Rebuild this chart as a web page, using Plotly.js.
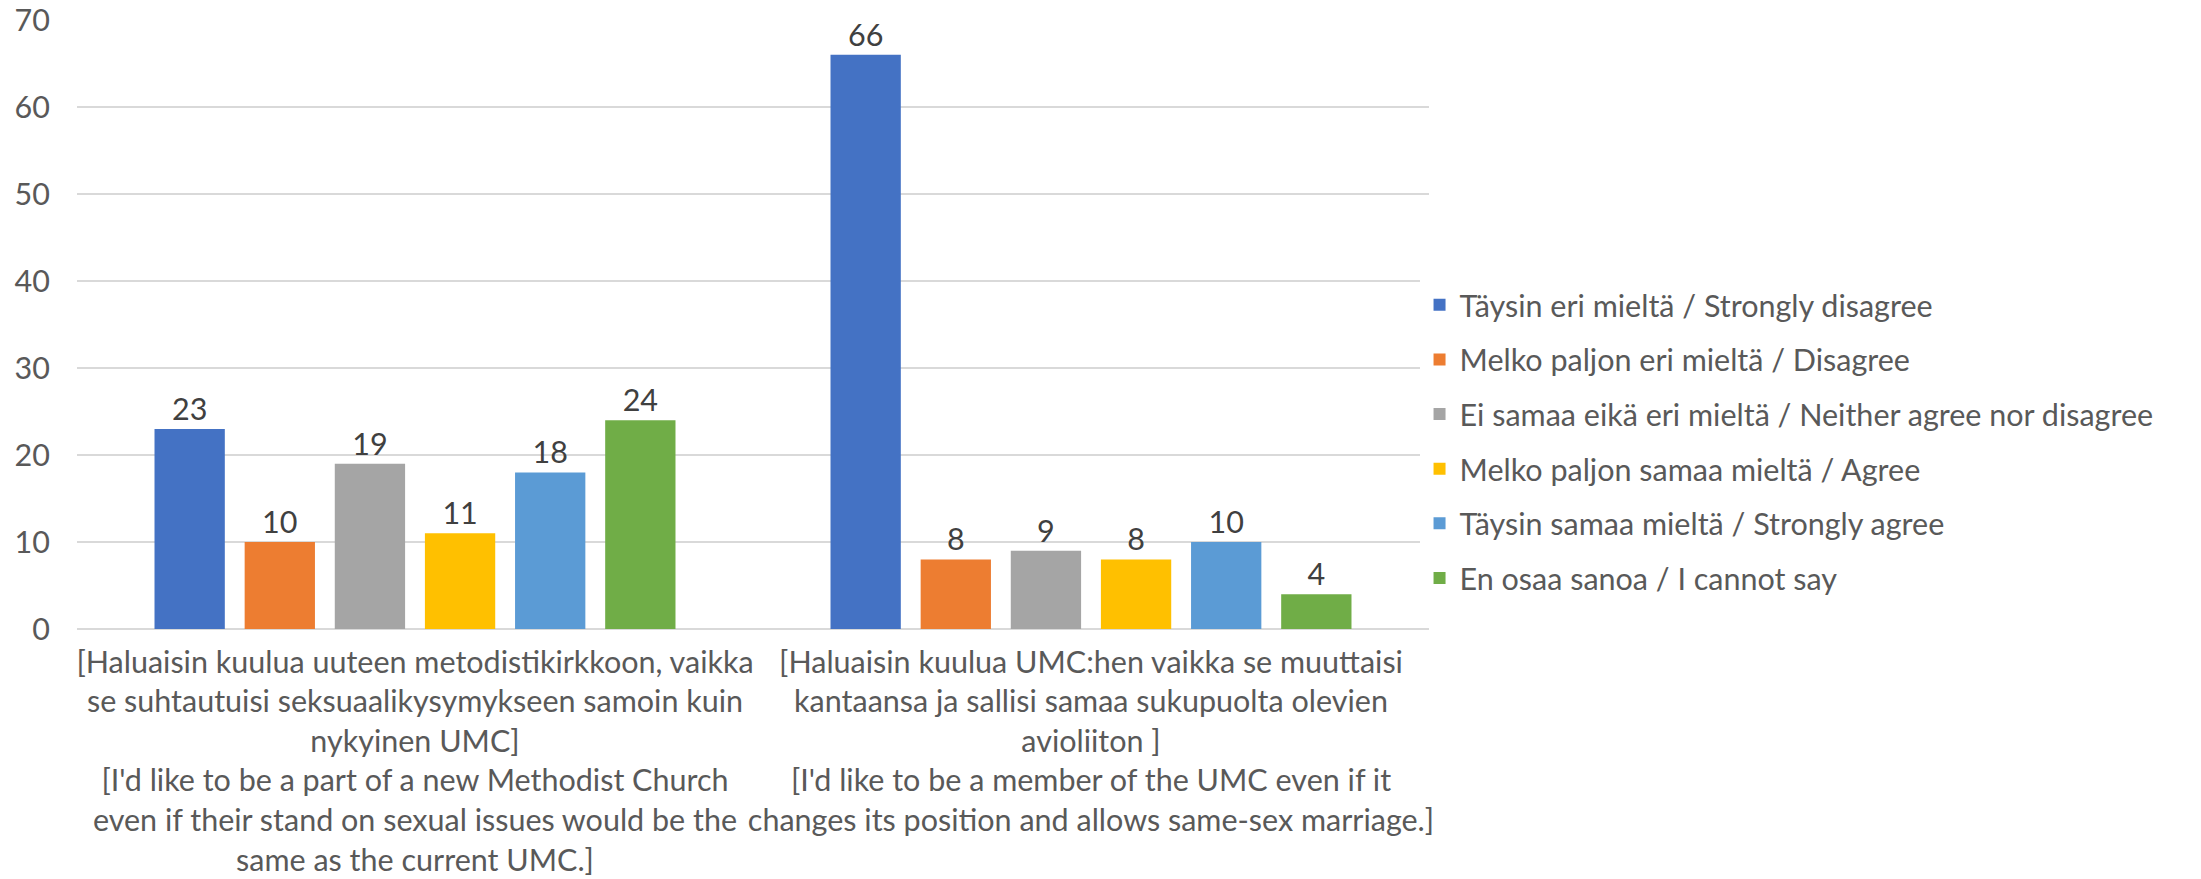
<!DOCTYPE html>
<html lang="en">
<head>
    <meta charset="UTF-8">
    <title>UMC kysely</title>
    <script src="https://cdn.plot.ly/plotly-3.0.1.min.js"></script>
    <style>
        body { margin: 0; background: white; }
        #chart { width: 2201px; height: 879px; }
    </style>
</head>
<body>
    <div id="chart"></div>
    <script>
        // Categories (two statements)
        const categories = [
            '[Haluaisin kuulua uuteen metodistikirkkoon, vaikka<br>se suhtautuisi seksuaalikysymykseen samoin kuin<br>nykyinen UMC]<br>[I\'d like to be a part of a new Methodist Church<br>even if their stand on sexual issues would be the<br>same as the current UMC.]',
            '[Haluaisin kuulua UMC:hen vaikka se muuttaisi<br>kantaansa ja sallisi samaa sukupuolta olevien<br>avioliiton ]<br>[I\'d like to be a member of the UMC even if it<br>changes its position and allows same-sex marriage.]'
        ];

        // Answer options and counts
        const seriesNames = [
            'Täysin eri mieltä / Strongly disagree',
            'Melko paljon eri mieltä / Disagree',
            'Ei samaa eikä eri mieltä / Neither agree nor disagree',
            'Melko paljon samaa mieltä / Agree',
            'Täysin samaa mieltä / Strongly agree',
            'En osaa sanoa / I cannot say'
        ];
        const stronglyDisagree = [23, 66];
        const disagree = [10, 8];
        const neither = [19, 9];
        const agree = [11, 8];
        const stronglyAgree = [18, 10];
        const cannotSay = [24, 4];

        const colors = ['#4472C4', '#ED7D31', '#A5A5A5', '#FFC000', '#5B9BD5', '#70AD47'];
        const FONT = 'Lato, "Open Sans", sans-serif';
        const SIZE = 30.5;

        const values = [stronglyDisagree, disagree, neither, agree, stronglyAgree, cannotSay];

        const data = values.map((v, i) => ({
            type: 'bar',
            x: categories,
            y: v,
            name: seriesNames[i],
            legendgroup: 'g' + i,
            marker: { color: colors[i] },
            text: v.map(String),
            textposition: 'outside',
            cliponaxis: false,
            textfont: { family: FONT, size: SIZE, color: '#404040' },
            hoverinfo: 'y+name'
        }));

        const layout = {
            width: 2201,
            height: 879,
            margin: { l: 77, r: 772, t: 20, b: 250 },
            paper_bgcolor: 'white',
            plot_bgcolor: 'white',
            font: { family: FONT, size: SIZE, color: '#595959' },
            barmode: 'group',
            bargap: 0.2,
            bargroupgap: 0.22,
            xaxis: {
                showgrid: false,
                showline: false,
                ticks: '',
                tickangle: 0,
                ticklabelstandoff: 12,
                tickfont: { family: FONT, size: SIZE, color: '#595959' }
            },
            yaxis: {
                range: [0, 70],
                dtick: 10,
                showgrid: true,
                gridcolor: '#D9D9D9',
                gridwidth: 1.5,
                zeroline: true,
                zerolinecolor: '#D9D9D9',
                zerolinewidth: 1.5,
                showline: false,
                ticks: '',
                ticklabelstandoff: 26,
                ticklabeloverflow: 'allow',
                tickfont: { family: FONT, size: SIZE, color: '#595959' }
            },
            showlegend: true,
            legend: {
                x: 0.993,
                xanchor: 'left',
                y: 0.308,
                yanchor: 'middle',
                tracegroupgap: 12,
                font: { family: FONT, size: SIZE, color: '#595959' }
            }
        };

        Plotly.newPlot('chart', data, layout, { displayModeBar: false });
    </script>
</body>
</html>
